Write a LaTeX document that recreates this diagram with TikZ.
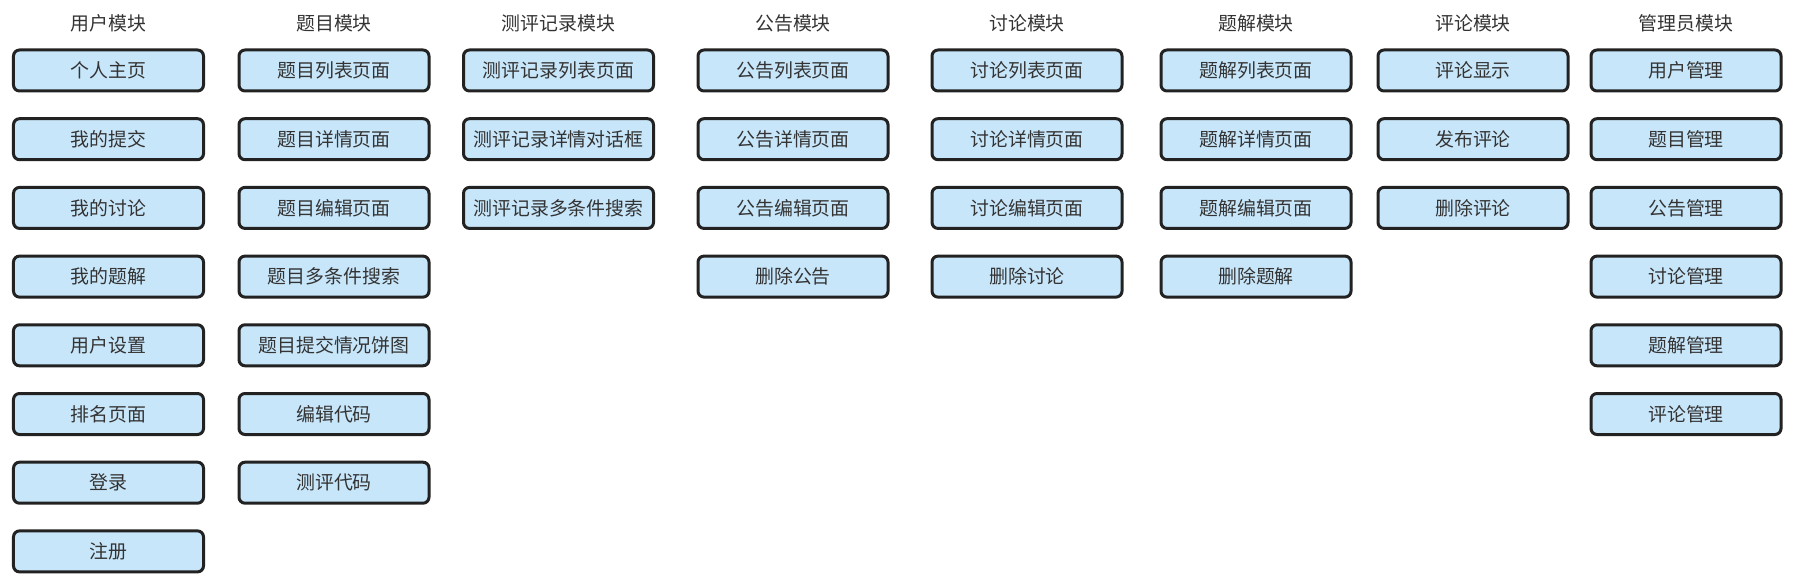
\documentclass[tikz,border=0pt]{standalone}
\usepackage{fontspec}
\setmainfont{Noto Sans CJK SC}
\definecolor{boxfill}{HTML}{C8E6FA}
\definecolor{boxline}{HTML}{222222}
\definecolor{txt}{HTML}{333333}
\tikzset{
  modbox/.style={draw=boxline, fill=boxfill, line width=3bp, rounded corners=6bp,
    minimum width=190bp, minimum height=41bp, inner sep=0pt, text=txt,
    font=\fontsize{18.9bp}{21bp}\selectfont},
  modtitle/.style={text=txt, inner sep=0pt, font=\fontsize{18.9bp}{21bp}\selectfont}
}
\begin{document}
\begin{tikzpicture}[x=1bp,y=-1bp]
\useasboundingbox (0,0) rectangle (1796,580);
\foreach \cx/\ci/\ttl/\items in {
  108.5/1/用户模块/{个人主页,我的提交,我的讨论,我的题解,用户设置,排名页面,登录,注册},
  334/2/题目模块/{题目列表页面,题目详情页面,题目编辑页面,题目多条件搜索,题目提交情况饼图,编辑代码,测评代码},
  558.5/3/测评记录模块/{测评记录列表页面,测评记录详情对话框,测评记录多条件搜索},
  793/4/公告模块/{公告列表页面,公告详情页面,公告编辑页面,删除公告},
  1027/5/讨论模块/{讨论列表页面,讨论详情页面,讨论编辑页面,删除讨论},
  1256/6/题解模块/{题解列表页面,题解详情页面,题解编辑页面,删除题解},
  1473/7/评论模块/{评论显示,发布评论,删除评论},
  1686/8/管理员模块/{用户管理,题目管理,公告管理,讨论管理,题解管理,评论管理}}
{
  \node[modtitle] (t\ci) at (\cx,23) {\ttl};
  \foreach \it [count=\r from 0] in \items {
    \node[modbox] (c\ci r\r) at (\cx,{70.5+68.7*\r}) {\it};
  }
}
\end{tikzpicture}
\end{document}
